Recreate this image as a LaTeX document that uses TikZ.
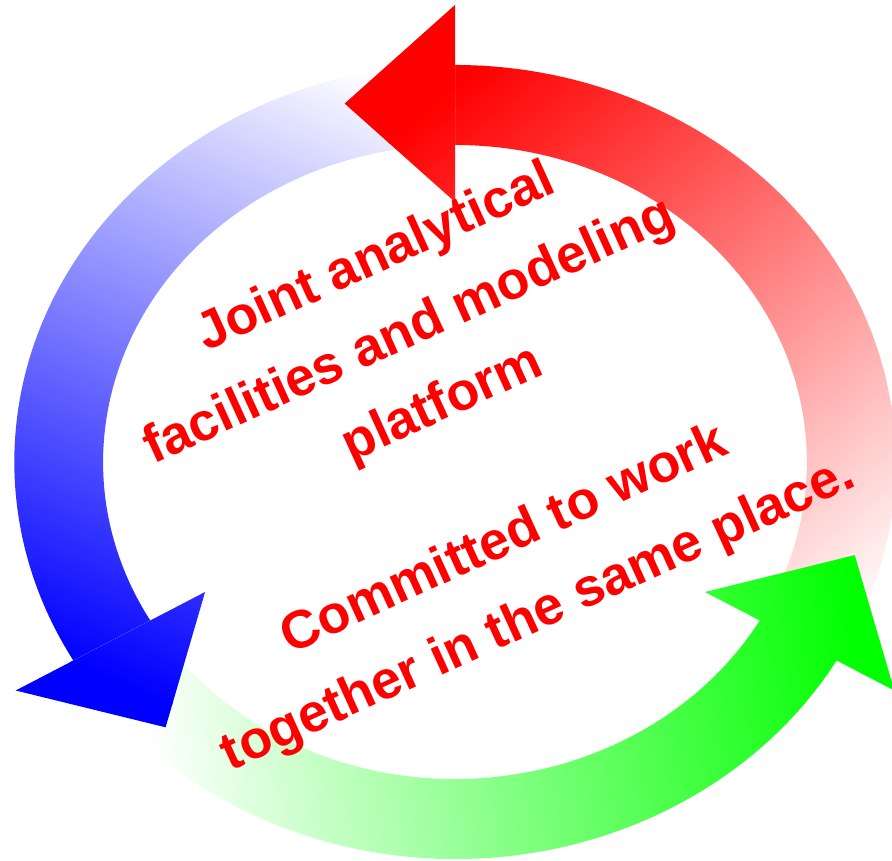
\documentclass[tikz,border=0pt]{standalone}
\usepackage{fontspec}
\setmainfont{Liberation Sans}
\tikzset{
  ringpart/.style={shift={(455,399)}, xscale=1.11},
  txt/.style={text=red, font=\fontsize{53.5}{60}\selectfont\bfseries, inner sep=0pt, anchor=base, rotate=24.5},
}
% #1 clip path, #2 #3 white point, #4 axis angle, #5 length, #6 colour
\newcommand{\arrowpart}[6]{%
  \begin{scope}
    \clip[ringpart] #1;
    \begin{scope}[transform canvas={shift={(#2,#3)},rotate=#4}]
      \fill[white] (-3000,-3000) rectangle (2,3000);
      \fill[#6] (#5-2,-3000) rectangle (3000,3000);
      \shade[left color=white,right color=#6] (0,-3000) rectangle (#5,3000);
    \end{scope}
  \end{scope}}
\begin{document}
\begin{tikzpicture}[x=1pt,y=1pt]
\useasboundingbox (0,0) rectangle (892,861);
\fill[white] (0,0) rectangle (892,861);
% shafts
\arrowpart{(-30:397) arc[start angle=-30,end angle=91,radius=397] -- (91:317) arc[start angle=91,end angle=-30,radius=317] -- cycle}{870}{241}{129.6}{674.8}{red}
\arrowpart{(90:397) arc[start angle=90,end angle=211,radius=397] -- (211:317) arc[start angle=211,end angle=90,radius=317] -- cycle}{420}{766}{246.75}{658.5}{blue}
\arrowpart{(210:397) arc[start angle=210,end angle=331,radius=397] -- (331:317) arc[start angle=331,end angle=210,radius=317] -- cycle}{150}{111}{8.8}{718.5}{green}
% heads
\arrowpart{(90:457) -- (105.5:372) -- (90:260) -- cycle}{870}{241}{129.6}{674.8}{red}
\arrowpart{(210:457) -- (225.5:372) -- (210:260) -- cycle}{420}{766}{246.75}{658.5}{blue}
\arrowpart{(330:457) -- (345.5:372) -- (330:260) -- cycle}{150}{111}{8.8}{718.5}{green}
% texts
\node[txt] (l1) at (382,589.5) {Joint analytical};
\node[txt] (l2) at (415.6,515.8) {facilities and modeling};
\node[txt] (l3) at (448.8,443) {platform};
\node[txt] (l4) at (510.6,307.4) {Committed to work};
\node[txt] (l5) at (544.7,232.8) {together in the same place.};
\end{tikzpicture}
\end{document}
